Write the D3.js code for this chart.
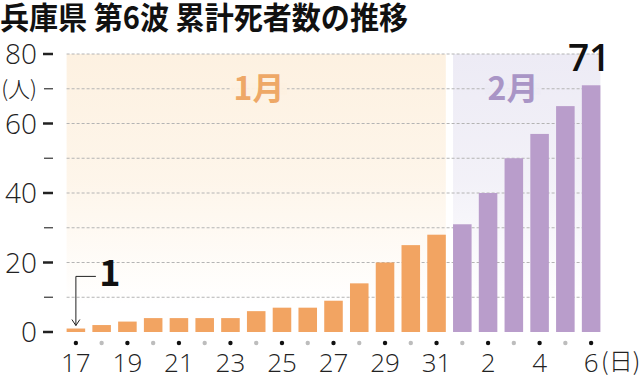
<!DOCTYPE html>
<html>
<head>
<meta charset="utf-8">
<script src="https://cdn.jsdelivr.net/npm/d3@7"></script>
<style>
  body { margin: 0; background: #fff; }
  svg { display: block; }
  text { font-family: "Noto Sans CJK JP", "Noto Sans", sans-serif; }
  text.num { font-family: "Open Sans", "Noto Sans", sans-serif; }
</style>
</head>
<body>
<svg width="640" height="380"></svg>
<script>
// data
const days = [17, 18, 19, 20, 21, 22, 23, 24, 25, 26, 27, 28, 29, 30, 31, 1, 2, 3, 4, 5, 6];
const months = [1, 1, 1, 1, 1, 1, 1, 1, 1, 1, 1, 1, 1, 1, 1, 2, 2, 2, 2, 2, 2];
const deaths = [1, 2, 3, 4, 4, 4, 4, 6, 7, 7, 9, 14, 20, 25, 28, 31, 40, 50, 57, 65, 71];
const majorTicks = [0, 20, 40, 60, 80];
const minorTicks = [10, 30, 50, 70];
const labeledDays = [17, 19, 21, 23, 25, 27, 29, 31, 2, 4, 6];

const title = '兵庫県 第6波 累計死者数の推移';
const orange = '#f2a462';
const purple = '#b99dcb';

const svg = d3.select('svg');
const keys = days.map((d, i) => months[i] + '-' + d);

const x = d3.scaleBand()
    .domain(keys)
    .range([63, 604])
    .paddingInner(0.28)
    .paddingOuter(0.14);

const y = d3.scaleLinear()
    .domain([0, 80])
    .range([332, 54]);

const defs = svg.append('defs');
function grad(id, col) {
    const g = defs.append('linearGradient')
        .attr('id', id)
        .attr('gradientUnits', 'userSpaceOnUse')
        .attr('x1', 0).attr('x2', 0)
        .attr('y1', y(80)).attr('y2', y(8));
    g.append('stop').attr('offset', 0).attr('stop-color', col);
    g.append('stop').attr('offset', 0.5).attr('stop-color', col).attr('stop-opacity', 0.7);
    g.append('stop').attr('offset', 1).attr('stop-color', col).attr('stop-opacity', 0);
}
grad('janBg', '#fdf1e1');
grad('febBg', '#edebf5');

// month background panels
const janKeys = keys.filter((k, i) => months[i] === 1);
const febKeys = keys.filter((k, i) => months[i] === 2);
const janX0 = x(janKeys[0]), janX1 = x(janKeys[janKeys.length - 1]) + x.bandwidth();
const febX0 = x(febKeys[0]), febX1 = x(febKeys[febKeys.length - 1]) + x.bandwidth();

svg.append('rect').attr('x', janX0).attr('y', y(80))
    .attr('width', janX1 - janX0).attr('height', y(0) - y(80))
    .attr('fill', 'url(#janBg)');
svg.append('rect').attr('x', febX0).attr('y', y(80))
    .attr('width', febX1 - febX0).attr('height', y(0) - y(80))
    .attr('fill', 'url(#febBg)');

// grid
svg.append('g')
    .selectAll('line')
    .data(d3.range(10, 81, 10))
    .join('line')
    .attr('x1', janX0).attr('x2', febX1)
    .attr('y1', d => y(d)).attr('y2', d => y(d))
    .attr('stroke', '#b4b4b4')
    .attr('stroke-width', 1)
    .attr('stroke-dasharray', '3,2');

// y axis ticks + labels
svg.append('g').selectAll('line')
    .data(majorTicks)
    .join('line')
    .attr('x1', 43).attr('x2', 53)
    .attr('y1', d => y(d)).attr('y2', d => y(d))
    .attr('stroke', '#222').attr('stroke-width', 2.5);
svg.append('g').selectAll('line')
    .data(minorTicks)
    .join('line')
    .attr('x1', 44).attr('x2', 53)
    .attr('y1', d => y(d)).attr('y2', d => y(d))
    .attr('stroke', '#444').attr('stroke-width', 1.3);

svg.append('g').selectAll('text')
    .data(majorTicks)
    .join('text')
    .attr('class', 'num')
    .attr('x', 37)
    .attr('y', d => y(d))
    .attr('dy', '0.36em')
    .attr('text-anchor', 'end')
    .attr('font-size', 28)
    .attr('font-weight', 300)
    .attr('fill', '#222')
    .text(d => d);

svg.append('text')
    .attr('x', 37).attr('y', y(70)).attr('dy', '0.36em')
    .attr('text-anchor', 'end')
    .attr('font-size', 22).attr('font-weight', 300)
    .attr('fill', '#222')
    .text('(人)');

// month labels with a gap in the grid behind them
const monthLabels = [
    { text: '1月', cx: 259, fill: '#eea867', bg: 'url(#janBg)' },
    { text: '2月', cx: 513, fill: '#a995c6', bg: 'url(#febBg)' }
];
monthLabels.forEach(m => {
    svg.append('rect')
        .attr('x', m.cx - 28).attr('y', y(70) - 6)
        .attr('width', 56).attr('height', 12)
        .attr('fill', m.bg);
    svg.append('text')
        .attr('x', m.cx).attr('y', y(70)).attr('dy', '0.36em')
        .attr('text-anchor', 'middle')
        .attr('font-size', 32).attr('font-weight', 700)
        .attr('fill', m.fill)
        .text(m.text);
});

// bars
svg.append('g')
    .selectAll('rect')
    .data(deaths)
    .join('rect')
    .attr('x', (d, i) => x(keys[i]))
    .attr('y', d => y(d))
    .attr('width', x.bandwidth())
    .attr('height', d => y(0) - y(d))
    .attr('fill', (d, i) => months[i] === 1 ? orange : purple);

// dots under the axis
svg.append('g')
    .selectAll('circle')
    .data(keys)
    .join('circle')
    .attr('cx', k => x(k) + x.bandwidth() / 2)
    .attr('cy', 343)
    .attr('r', 2.2)
    .attr('fill', (k, i) => labeledDays.includes(days[i]) ? '#111' : '#bdbdbd');

// x labels
svg.append('g')
    .selectAll('text')
    .data(keys.filter((k, i) => labeledDays.includes(days[i])))
    .join('text')
    .attr('class', 'num')
    .attr('x', k => x(k) + x.bandwidth() / 2)
    .attr('y', 372)
    .attr('text-anchor', 'middle')
    .attr('font-size', 26)
    .attr('font-weight', 300)
    .attr('fill', '#222')
    .text(k => k.split('-')[1]);

const lastKey = keys[keys.length - 1];
svg.append('text')
    .attr('x', x(lastKey) + x.bandwidth() / 2 + 10)
    .attr('y', 370)
    .attr('font-size', 24)
    .attr('font-weight', 300)
    .attr('fill', '#222')
    .text('(日)');

// value callouts
const lastX = x(lastKey) + x.bandwidth() / 2;
svg.append('text')
    .attr('class', 'num')
    .attr('x', lastX - 2).attr('y', y(deaths[deaths.length - 1]) - 14)
    .attr('text-anchor', 'middle')
    .attr('font-size', 37).attr('font-weight', 600)
    .attr('fill', '#111')
    .text(deaths[deaths.length - 1]);

const firstX = x(keys[0]) + x.bandwidth() / 2;
const arrowTop = y(16);
svg.append('path')
    .attr('d', `M${firstX + 20},${arrowTop}H${firstX}V${y(deaths[0]) - 3}`)
    .attr('fill', 'none').attr('stroke', '#222').attr('stroke-width', 1);
svg.append('path')
    .attr('d', `M${firstX - 4},${y(deaths[0]) - 9}L${firstX},${y(deaths[0]) - 3}L${firstX + 4},${y(deaths[0]) - 9}`)
    .attr('fill', 'none').attr('stroke', '#222').attr('stroke-width', 1);
svg.append('text')
    .attr('x', firstX + 34).attr('y', y(16) + 10)
    .attr('text-anchor', 'middle')
    .attr('font-size', 36).attr('font-weight', 700)
    .attr('fill', '#111')
    .text(deaths[0]);

// title
svg.append('text')
    .attr('x', 0).attr('y', 29)
    .attr('font-size', 31)
    .attr('font-weight', 700)
    .attr('fill', '#111')
    .attr('textLength', 408)
    .attr('lengthAdjust', 'spacingAndGlyphs')
    .text(title);
</script>
</body>
</html>
